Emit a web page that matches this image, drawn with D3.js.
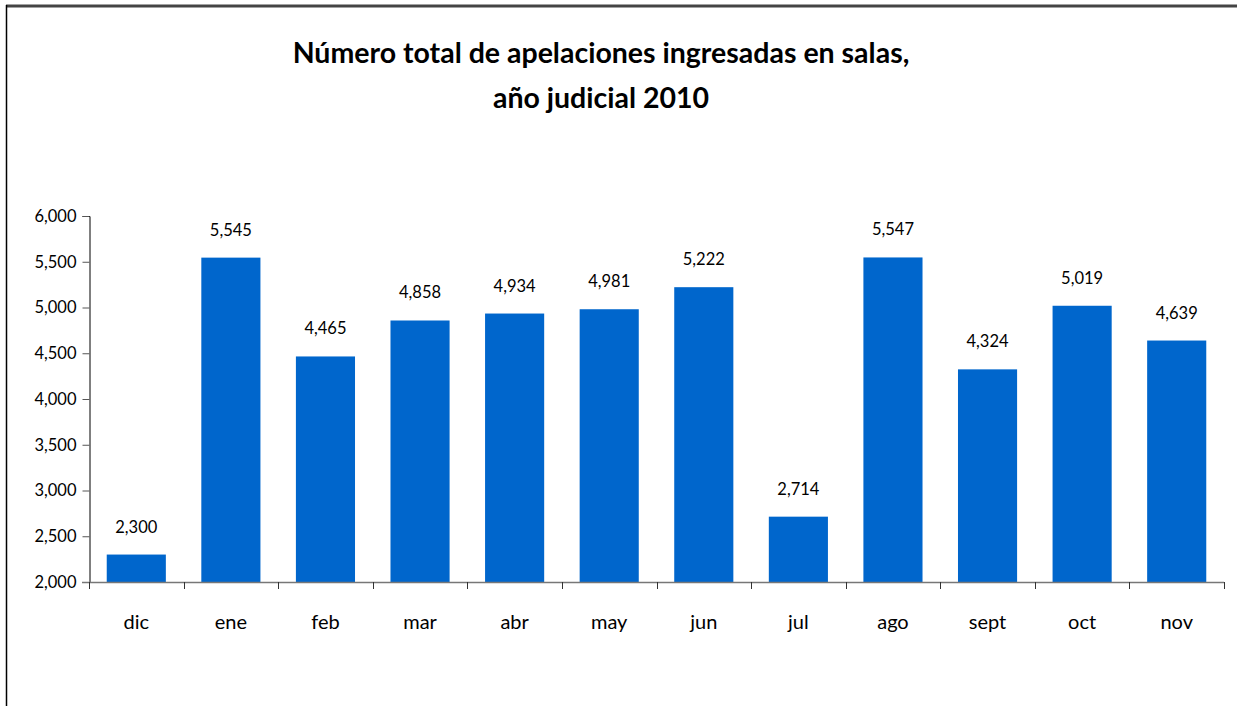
<!DOCTYPE html>
<meta charset="utf-8">
<head>
<style>
  body { margin: 0; background: #fff; }
  svg text { font-family: "Lato", "Open Sans", sans-serif; fill: #000; }
</style>
</head>
<svg id="chart" width="1237" height="706"></svg>
<script src="https://d3js.org/d3.v7.min.js"></script>
<script>

// data
var months = ["dic", "ene", "feb", "mar", "abr", "may", "jun", "jul", "ago", "sept", "oct", "nov"];
var values = [2300, 5545, 4465, 4858, 4934, 4981, 5222, 2714, 5547, 4324, 5019, 4639];
var yTicks = [2000, 2500, 3000, 3500, 4000, 4500, 5000, 5500, 6000];
var titleLines = ["Número total de apelaciones ingresadas en salas,", "año judicial 2010"];

var svg = d3.select("#chart");

// frame (top + left only)
svg.append("line").attr("x1", 6).attr("x2", 1237).attr("y1", 6).attr("y2", 6)
  .attr("stroke", "#444").attr("stroke-width", 3);
svg.append("line").attr("x1", 6.5).attr("x2", 6.5).attr("y1", 5).attr("y2", 706)
  .attr("stroke", "#000").attr("stroke-width", 1.5);

// title
svg.selectAll(".title")
  .data(titleLines)
  .enter().append("text")
    .attr("class", "title")
    .attr("x", 601)
    .attr("y", function(d, i) { return 63 + i * 45; })
    .attr("text-anchor", "middle")
    .style("font-size", "28.5px")
    .style("font-weight", "bold")
    .text(function(d) { return d; });

var plotLeft = 89, plotRight = 1224, plotTop = 216, plotBottom = 582;

var x = d3.scaleBand().domain(months).range([plotLeft, plotRight]).paddingInner(0.375).paddingOuter(0.1875);
var y = d3.scaleLinear().domain([2000, 6000]).range([plotBottom, plotTop]);

// y axis
var yAxis = svg.append("g")
  .attr("transform", "translate(" + (plotLeft + 0.5) + ",0)")
  .call(d3.axisLeft(y).tickValues(yTicks).tickSize(7).tickPadding(6).tickFormat(d3.format(",")));
yAxis.select(".domain").attr("stroke", "#000");
yAxis.selectAll(".tick line").attr("stroke", "#555");
yAxis.selectAll("text").style("font-size", "16.5px").attr("fill", "#000");

// bars
svg.append("g")
  .selectAll("rect")
  .data(values)
  .enter().append("rect")
    .attr("x", function(d, i) { return x(months[i]); })
    .attr("y", function(d) { return y(d); })
    .attr("width", x.bandwidth())
    .attr("height", function(d) { return plotBottom - y(d); })
    .attr("fill", "#0066CC");

// value labels
svg.append("g")
  .selectAll("text")
  .data(values)
  .enter().append("text")
    .attr("x", function(d, i) { return x(months[i]) + x.bandwidth() / 2; })
    .attr("y", function(d) { return y(d) - 22; })
    .attr("text-anchor", "middle")
    .style("font-size", "16.5px")
    .text(function(d) { return d3.format(",")(d); });

// x axis
var step = x.step();
svg.append("line").attr("x1", plotLeft - 7).attr("x2", plotRight).attr("y1", plotBottom + 0.5).attr("y2", plotBottom + 0.5)
  .attr("stroke", "#777").attr("stroke-width", 1.5);
svg.append("g")
  .selectAll("line")
  .data(d3.range(months.length + 1))
  .enter().append("line")
    .attr("x1", function(i) { return Math.round(plotLeft + i * step) + 0.5; })
    .attr("x2", function(i) { return Math.round(plotLeft + i * step) + 0.5; })
    .attr("y1", plotBottom)
    .attr("y2", plotBottom + 7)
    .attr("stroke", "#333");

svg.append("g")
  .selectAll("text")
  .data(months)
  .enter().append("text")
    .attr("x", function(d) { return x(d) + x.bandwidth() / 2; })
    .attr("y", 629)
    .attr("text-anchor", "middle")
    .style("font-size", "20px")
    .text(function(d) { return d; });

</script>
